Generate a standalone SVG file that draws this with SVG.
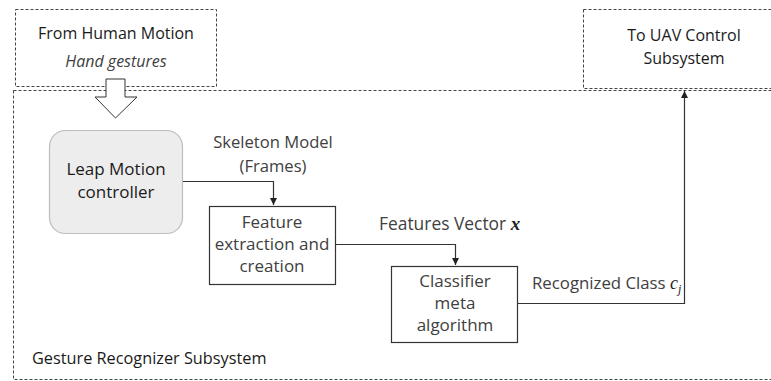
<svg xmlns="http://www.w3.org/2000/svg" width="771" height="381" viewBox="0 0 771 381">
<defs>
<style>
.dash{fill:none;stroke:#444;stroke-width:1;stroke-dasharray:3,2}
.box{fill:#fff;stroke:#333;stroke-width:1.2}
.t{font-family:"Open Sans","Liberation Sans",Arial,sans-serif;font-size:16px;fill:#1a1a1a;text-anchor:middle}
.lbl{font-family:"Open Sans","Liberation Sans",Arial,sans-serif;font-size:16.6px;fill:#404040;text-anchor:middle}
.bl{font-size:17px}
.conn{fill:none;stroke:#333;stroke-width:1.2}
.math{font-family:"Liberation Serif","Times New Roman",serif;font-style:italic;fill:#222}
</style>
<marker id="ah" markerWidth="8" markerHeight="8" refX="7" refY="4" orient="auto" markerUnits="userSpaceOnUse">
<path d="M0,0.5 L7,4 L0,7.5 Z" fill="#222"/>
</marker>
</defs>
<rect width="771" height="381" fill="#fff"/>
<g id="main-subsystem">
<rect class="dash" x="13.5" y="90.5" width="770" height="289"/>
<text x="32" y="364" class="t" style="text-anchor:start;font-size:16.3px">Gesture Recognizer  Subsystem</text>
</g>
<g id="from-human">
<rect class="dash" x="15.5" y="9.5" width="201" height="77" fill="#fff"/>
<text x="116" y="39" class="t">From Human Motion</text>
<text x="116" y="67" class="lbl" style="font-style:italic;font-size:16px">Hand gestures</text>
</g>
<g id="to-uav">
<rect class="dash" x="583.5" y="9.5" width="200" height="79"/>
<text x="684" y="41" class="t">To UAV Control</text>
<text x="684" y="64" class="t">Subsystem</text>
</g>
<g id="hollow-arrow">
<path d="M106,79 L125,79 L125,97 L137,97 L115.5,118 L95,97 L106,97 Z" fill="#fff" stroke="#333" stroke-width="1"/>
</g>
<g id="leap">
<rect x="49.5" y="130.5" width="133" height="103" rx="16" fill="#ededed" stroke="#bdbdbd" stroke-width="1.2"/>
<text x="116" y="175" class="t bl">Leap Motion</text>
<text x="116" y="198" class="t bl">controller</text>
</g>
<g id="feature">
<rect class="box" x="209.5" y="206.5" width="126" height="78"/>
<text x="272" y="228" class="lbl bl">Feature</text>
<text x="272" y="250" class="lbl bl">extraction and</text>
<text x="272" y="272" class="lbl bl">creation</text>
</g>
<g id="classifier">
<rect class="box" x="391.5" y="266.5" width="126" height="76"/>
<text x="455" y="287" class="lbl bl">Classifier</text>
<text x="455" y="309" class="lbl bl">meta</text>
<text x="455" y="331" class="lbl bl">algorithm</text>
</g>
<g id="connectors">
<path class="conn" d="M183,181.5 H273.5 V205" marker-end="url(#ah)"/>
<path class="conn" d="M336,244.5 H455.5 V265" marker-end="url(#ah)"/>
<path class="conn" d="M518,303.5 H684.5 V91" stroke="#666" marker-end="url(#ah)"/>
<text x="273" y="148" class="lbl">Skeleton Model</text>
<text x="273" y="172" class="lbl">(Frames)</text>
<text x="379" y="230" class="lbl" style="text-anchor:start;font-size:17.4px">Features Vector <tspan class="math" font-weight="bold" font-size="19">x</tspan></text>
<text x="532" y="289" class="lbl" style="text-anchor:start;font-size:16.8px">Recognized Class <tspan class="math" font-size="18">c</tspan><tspan class="math" font-size="12" dy="4">j</tspan></text>
</g>
</svg>
